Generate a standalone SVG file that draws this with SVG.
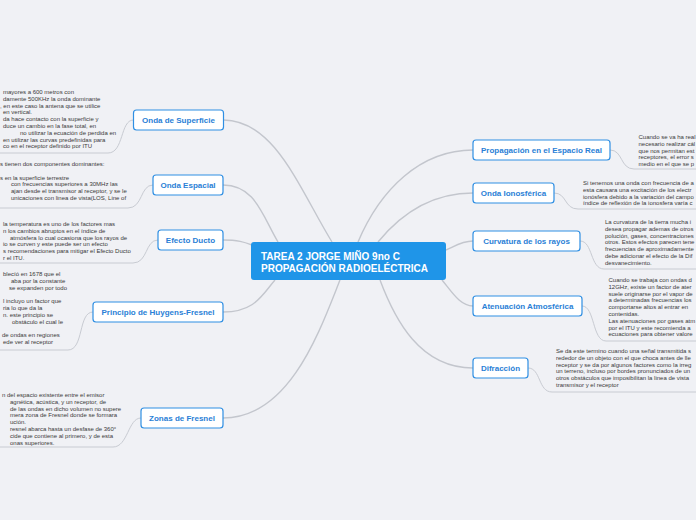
<svg xmlns="http://www.w3.org/2000/svg" width="696" height="520" viewBox="0 0 696 520">
<style>
.bg{fill:#f0f1f5}
.conn{fill:none;stroke:#c3c6cd;stroke-width:1.4}
.tconn{fill:none;stroke:#c8cbd2;stroke-width:1}
.node rect{fill:#ffffff;stroke:#2f8fe3;stroke-width:1.2}
.node text{font-family:"Liberation Sans",Arial,sans-serif;font-size:8px;font-weight:bold;fill:#2a80d6;text-anchor:middle}
.note{font-family:"Liberation Sans",Arial,sans-serif;font-size:6px;fill:#3a3a3a}
.center rect{fill:#1f95e8}
.center text{font-family:"Liberation Sans",Arial,sans-serif;font-size:10px;font-weight:bold;fill:#ffffff}
</style>
<rect class="bg" x="0" y="0" width="696" height="520"/>

<g id="connectors">
  <path class="conn" d="M223.5,120 C275,120 300,190 332,242"/>
  <path class="conn" d="M223,185 C255,185 262,215 278,242"/>
  <path class="conn" d="M223,240 C238,240 244,242 252,245"/>
  <path class="conn" d="M223,312 C255,312 262,295 275,280"/>
  <path class="conn" d="M223,418 C290,418 320,330 340,280"/>
  <path class="conn" d="M473,150 C420,150 380,190 358,242"/>
  <path class="conn" d="M473,193 C430,193 400,215 378,242"/>
  <path class="conn" d="M473,241 C462,241 455,246 446,250"/>
  <path class="conn" d="M473,306 C460,306 452,292 442,280"/>
  <path class="conn" d="M473,368 C420,368 395,320 380,280"/>
  <path class="tconn" d="M133.5,120 C120,120 124,153 108,153 L0,153"/>
  <path class="tconn" d="M153,185 C140,185 143,208 128,208 L0,208"/>
  <path class="tconn" d="M158,240 C145,240 148,263 133,263 L0,263"/>
  <path class="tconn" d="M93,312 C78,312 84,350 68,350 L0,350"/>
  <path class="tconn" d="M141,418 C128,418 128,447 113,447 L0,447"/>
  <path class="tconn" d="M610,150 C623,150 620,169 634,169 L696,169"/>
  <path class="tconn" d="M554,193 C567,193 564,209 578,209 L696,209"/>
  <path class="tconn" d="M580,241 C593,241 590,269 604,269 L696,269"/>
  <path class="tconn" d="M582,306 C595,306 592,341 606,341 L696,341"/>
  <path class="tconn" d="M528,368 C541,368 538,392 552,392 L696,392"/>
</g>

<g id="center" class="center">
  <rect x="251" y="242" width="195" height="38" rx="3"/>
  <text x="261" y="260">TAREA 2 JORGE MIÑO 9no C</text>
  <text x="261" y="272">PROPAGACIÓN RADIOELÉCTRICA</text>
</g>

<g id="onda-superficie" class="node">
  <rect x="133.5" y="110" width="90" height="20" rx="3"/>
  <text x="178.5" y="123">Onda de Superficie</text>
</g>
<g id="onda-espacial" class="node">
  <rect x="153" y="175" width="70" height="20" rx="3"/>
  <text x="188" y="188">Onda Espacial</text>
</g>
<g id="efecto-ducto" class="node">
  <rect x="158" y="230" width="65" height="20" rx="3"/>
  <text x="190.5" y="243">Efecto Ducto</text>
</g>
<g id="huygens" class="node">
  <rect x="93" y="302" width="130" height="20" rx="3"/>
  <text x="158" y="315">Principio de Huygens-Fresnel</text>
</g>
<g id="zonas-fresnel" class="node">
  <rect x="141" y="408" width="82" height="20" rx="3"/>
  <text x="182" y="421">Zonas de Fresnel</text>
</g>
<g id="propagacion" class="node">
  <rect x="473" y="140" width="137" height="20" rx="3"/>
  <text x="541.5" y="153">Propagación en el Espacio Real</text>
</g>
<g id="onda-ionosferica" class="node">
  <rect x="473" y="183" width="81" height="20" rx="3"/>
  <text x="513.5" y="196">Onda Ionosférica</text>
</g>
<g id="curvatura" class="node">
  <rect x="473" y="231" width="107" height="20" rx="3"/>
  <text x="526.5" y="244">Curvatura de los rayos</text>
</g>
<g id="atenuacion" class="node">
  <rect x="473" y="296" width="109" height="20" rx="3"/>
  <text x="527.5" y="309">Atenuación Atmosférica</text>
</g>
<g id="difraccion" class="node">
  <rect x="473" y="358" width="55" height="20" rx="3"/>
  <text x="500.5" y="371">Difracción</text>
</g>

<g id="notes-left" class="note">
  <text x="3" y="94">mayores a 600 metros con</text>
  <text x="3" y="100.8">damente 500KHz la onda dominante</text>
  <text x="0" y="107.6">, en este caso la antena que se utilice</text>
  <text x="3" y="114.4">en vertical.</text>
  <text x="3" y="121.2">da hace contacto con la superficie y</text>
  <text x="3" y="128">duce un cambio en la fase total, en</text>
  <text x="20" y="134.8">no utilizar la ecuación de perdida en</text>
  <text x="3" y="141.6">en utilizar las curvas predefinidas para</text>
  <text x="3" y="148.4">co en el receptor definido por ITU</text>

  <text x="0" y="166">s tienen dos componentes dominantes:</text>
  <text x="0" y="179.6">s en la superficie terrestre</text>
  <text x="11" y="186.4">con frecuencias superiores a 30MHz las</text>
  <text x="11" y="193.2">ajan desde el transmisor al receptor, y se le</text>
  <text x="11" y="200">unicaciones con linea de vista(LOS, Line of</text>

  <text x="3" y="226">la temperatura es uno de los factores mas</text>
  <text x="3" y="232.8">n los cambios abruptos en el índice de</text>
  <text x="10" y="239.6">atmósfera lo cual ocasiona que los rayos de</text>
  <text x="3" y="246.4">io se curven y este puede ser un efecto</text>
  <text x="3" y="253.2">s recomendaciones para mitigar el Efecto Ducto</text>
  <text x="3" y="260">r el ITU.</text>

  <text x="3" y="276">blecíó en 1678 que el</text>
  <text x="11" y="282.8">aba por la constante</text>
  <text x="9" y="289.6">se expanden por todo</text>
  <text x="3" y="303.2">l incluyo un factor que</text>
  <text x="3" y="310">ria lo que da la</text>
  <text x="3" y="316.8">n. este principio se</text>
  <text x="12" y="323.6">obstáculo el cual le</text>
  <text x="2" y="337.2">de ondas en regiones</text>
  <text x="3" y="344">ede ver al receptor</text>

  <text x="2" y="397">n del espacio existente entre el emisor</text>
  <text x="10" y="403.8">agnética, acústica, y un receptor, de</text>
  <text x="10" y="410.6">de las ondas en dicho volumen no supere</text>
  <text x="10" y="417.4">mera zona de Fresnel donde se formara</text>
  <text x="10" y="424.2">ución.</text>
  <text x="10" y="431">resnel abarca hasta un desfase de 360°</text>
  <text x="10" y="437.8">cide que contiene al primero, y de esta</text>
  <text x="10" y="444.6">onas superiores.</text>
</g>

<g id="notes-right" class="note">
  <text x="638.5" y="139">Cuando se va ha real</text>
  <text x="638.5" y="145.8">necesario realizar cál</text>
  <text x="638.5" y="152.6">que nos permitan est</text>
  <text x="638.5" y="159.4">receptores, el error s</text>
  <text x="638.5" y="166.2">medio en el que se p</text>

  <text x="583" y="185">Si tenemos una onda con frecuencia de a</text>
  <text x="583" y="191.8">esta causara una excitación de los electr</text>
  <text x="583" y="198.6">ionósfera debido a la variación del campo</text>
  <text x="583" y="205.4">índice de reflexión de la ionosfera varía c</text>

  <text x="605" y="224">La curvatura de la tierra mucha i</text>
  <text x="605" y="230.8">desea propagar ademas de otros</text>
  <text x="605" y="237.6">polución, gases, concentraciones</text>
  <text x="605" y="244.4">otros. Estos efectos parecen tene</text>
  <text x="605" y="251.2">frecuencias de aproximadamente</text>
  <text x="605" y="258">debe adicionar el efecto de la Dif</text>
  <text x="605" y="264.8">desvanecimiento.</text>

  <text x="608.5" y="282">Cuando se trabaja con ondas d</text>
  <text x="608.5" y="288.8">12GHz, existe un factor de ater</text>
  <text x="608.5" y="295.6">suele originarse por el vapor de</text>
  <text x="608.5" y="302.4">a determinadas frecuencias los</text>
  <text x="608.5" y="309.2">comportarse altos al entrar en</text>
  <text x="608.5" y="316">contenidas.</text>
  <text x="608.5" y="322.8">Las atenuaciones por gases atm</text>
  <text x="608.5" y="329.6">por el ITU y este recomienda a</text>
  <text x="608.5" y="336.4">ecuaciones para obtener valore</text>

  <text x="556" y="353">Se da este termino cuando una señal transmitida s</text>
  <text x="556" y="359.8">rededor de un objeto con el que choca antes de lle</text>
  <text x="556" y="366.6">receptor y se da por algunos factores como la irreg</text>
  <text x="556" y="373.4">un terreno, incluso por bordes pronunciados de un</text>
  <text x="556" y="380.2">otros obstáculos que imposibilitan la linea de vista</text>
  <text x="556" y="387">transmisor y el receptor</text>
</g>
</svg>
